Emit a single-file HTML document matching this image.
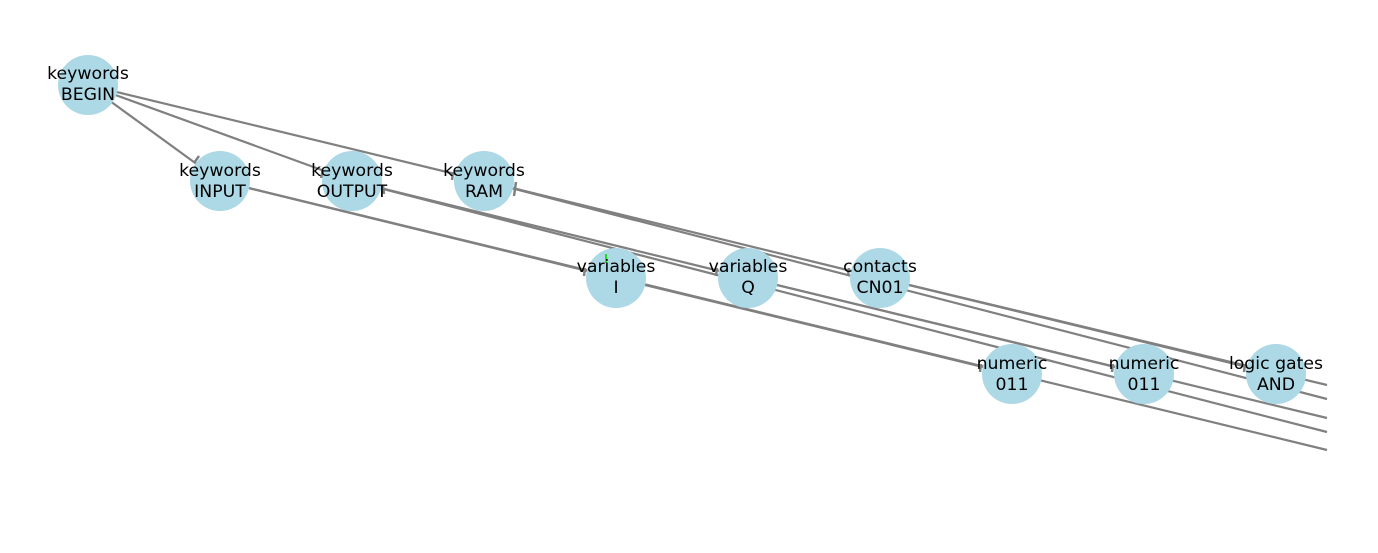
<!DOCTYPE html>
<html><head><style>body{margin:0;background:#fff}</style></head><body>
<svg width="1378" height="548" xmlns="http://www.w3.org/2000/svg" font-family="DejaVu Sans, sans-serif" font-size="17.3">
<g stroke="#808080" stroke-width="2.2" fill="none">
<line x1="88" y1="85" x2="220" y2="181"/>
<line x1="88" y1="85" x2="352" y2="181"/>
<line x1="88" y1="85" x2="484" y2="181"/>
<line x1="220" y1="181" x2="616" y2="278"/>
<line x1="220" y1="181" x2="1327" y2="450"/>
<line x1="352" y1="181" x2="748" y2="278"/>
<line x1="352" y1="181" x2="1327" y2="432"/>
<line x1="484" y1="181" x2="880" y2="278"/>
<line x1="484" y1="181" x2="1327" y2="399"/>
<line x1="616" y1="278" x2="1012" y2="374"/>
<line x1="748" y1="278" x2="1144" y2="374"/>
<line x1="748" y1="278" x2="1327" y2="418"/>
<line x1="880" y1="278" x2="1276" y2="374"/>
<line x1="880" y1="278" x2="1327" y2="385"/>
</g>
<g fill="#add8e6">
<circle cx="88" cy="85" r="30"/>
<circle cx="220" cy="181" r="30"/>
<circle cx="352" cy="181" r="30"/>
<circle cx="484" cy="181" r="30"/>
<circle cx="616" cy="278" r="30"/>
<circle cx="748" cy="278" r="30"/>
<circle cx="880" cy="278" r="30"/>
<circle cx="1012" cy="374" r="30"/>
<circle cx="1144" cy="374" r="30"/>
<circle cx="1276" cy="374" r="30"/>
</g>
<g stroke="#808080" stroke-width="2.5">
<line x1="199" y1="156" x2="194" y2="163"/>
<line x1="323" y1="170" x2="321" y2="178"/>
<line x1="453" y1="172" x2="452" y2="180"/>
<line x1="585" y1="268" x2="584" y2="276"/>
<line x1="717" y1="268" x2="716" y2="276"/>
<line x1="849" y1="268" x2="848" y2="276"/>
<line x1="981" y1="364" x2="980" y2="372"/>
<line x1="1113" y1="364" x2="1112" y2="372"/>
<line x1="1245" y1="364" x2="1244" y2="372"/>
<line x1="516" y1="182" x2="514" y2="196"/>
<line x1="383" y1="186" x2="384" y2="194"/>
</g>
<line x1="606" y1="254" x2="606" y2="263" stroke="#22dd22" stroke-width="2"/>
<g fill="#000" text-anchor="middle">
<text x="88" y="79">keywords</text><text x="88" y="100">BEGIN</text>
<text x="220" y="176">keywords</text><text x="220" y="197">INPUT</text>
<text x="352" y="176">keywords</text><text x="352" y="197">OUTPUT</text>
<text x="484" y="176">keywords</text><text x="484" y="197">RAM</text>
<text x="616" y="272">variables</text><text x="616" y="293">I</text>
<text x="748" y="272">variables</text><text x="748" y="293">Q</text>
<text x="880" y="272">contacts</text><text x="880" y="293">CN01</text>
<text x="1012" y="369">numeric</text><text x="1012" y="390">011</text>
<text x="1144" y="369">numeric</text><text x="1144" y="390">011</text>
<text x="1276" y="369">logic gates</text><text x="1276" y="390">AND</text>
</g>
</svg>
</body></html>
